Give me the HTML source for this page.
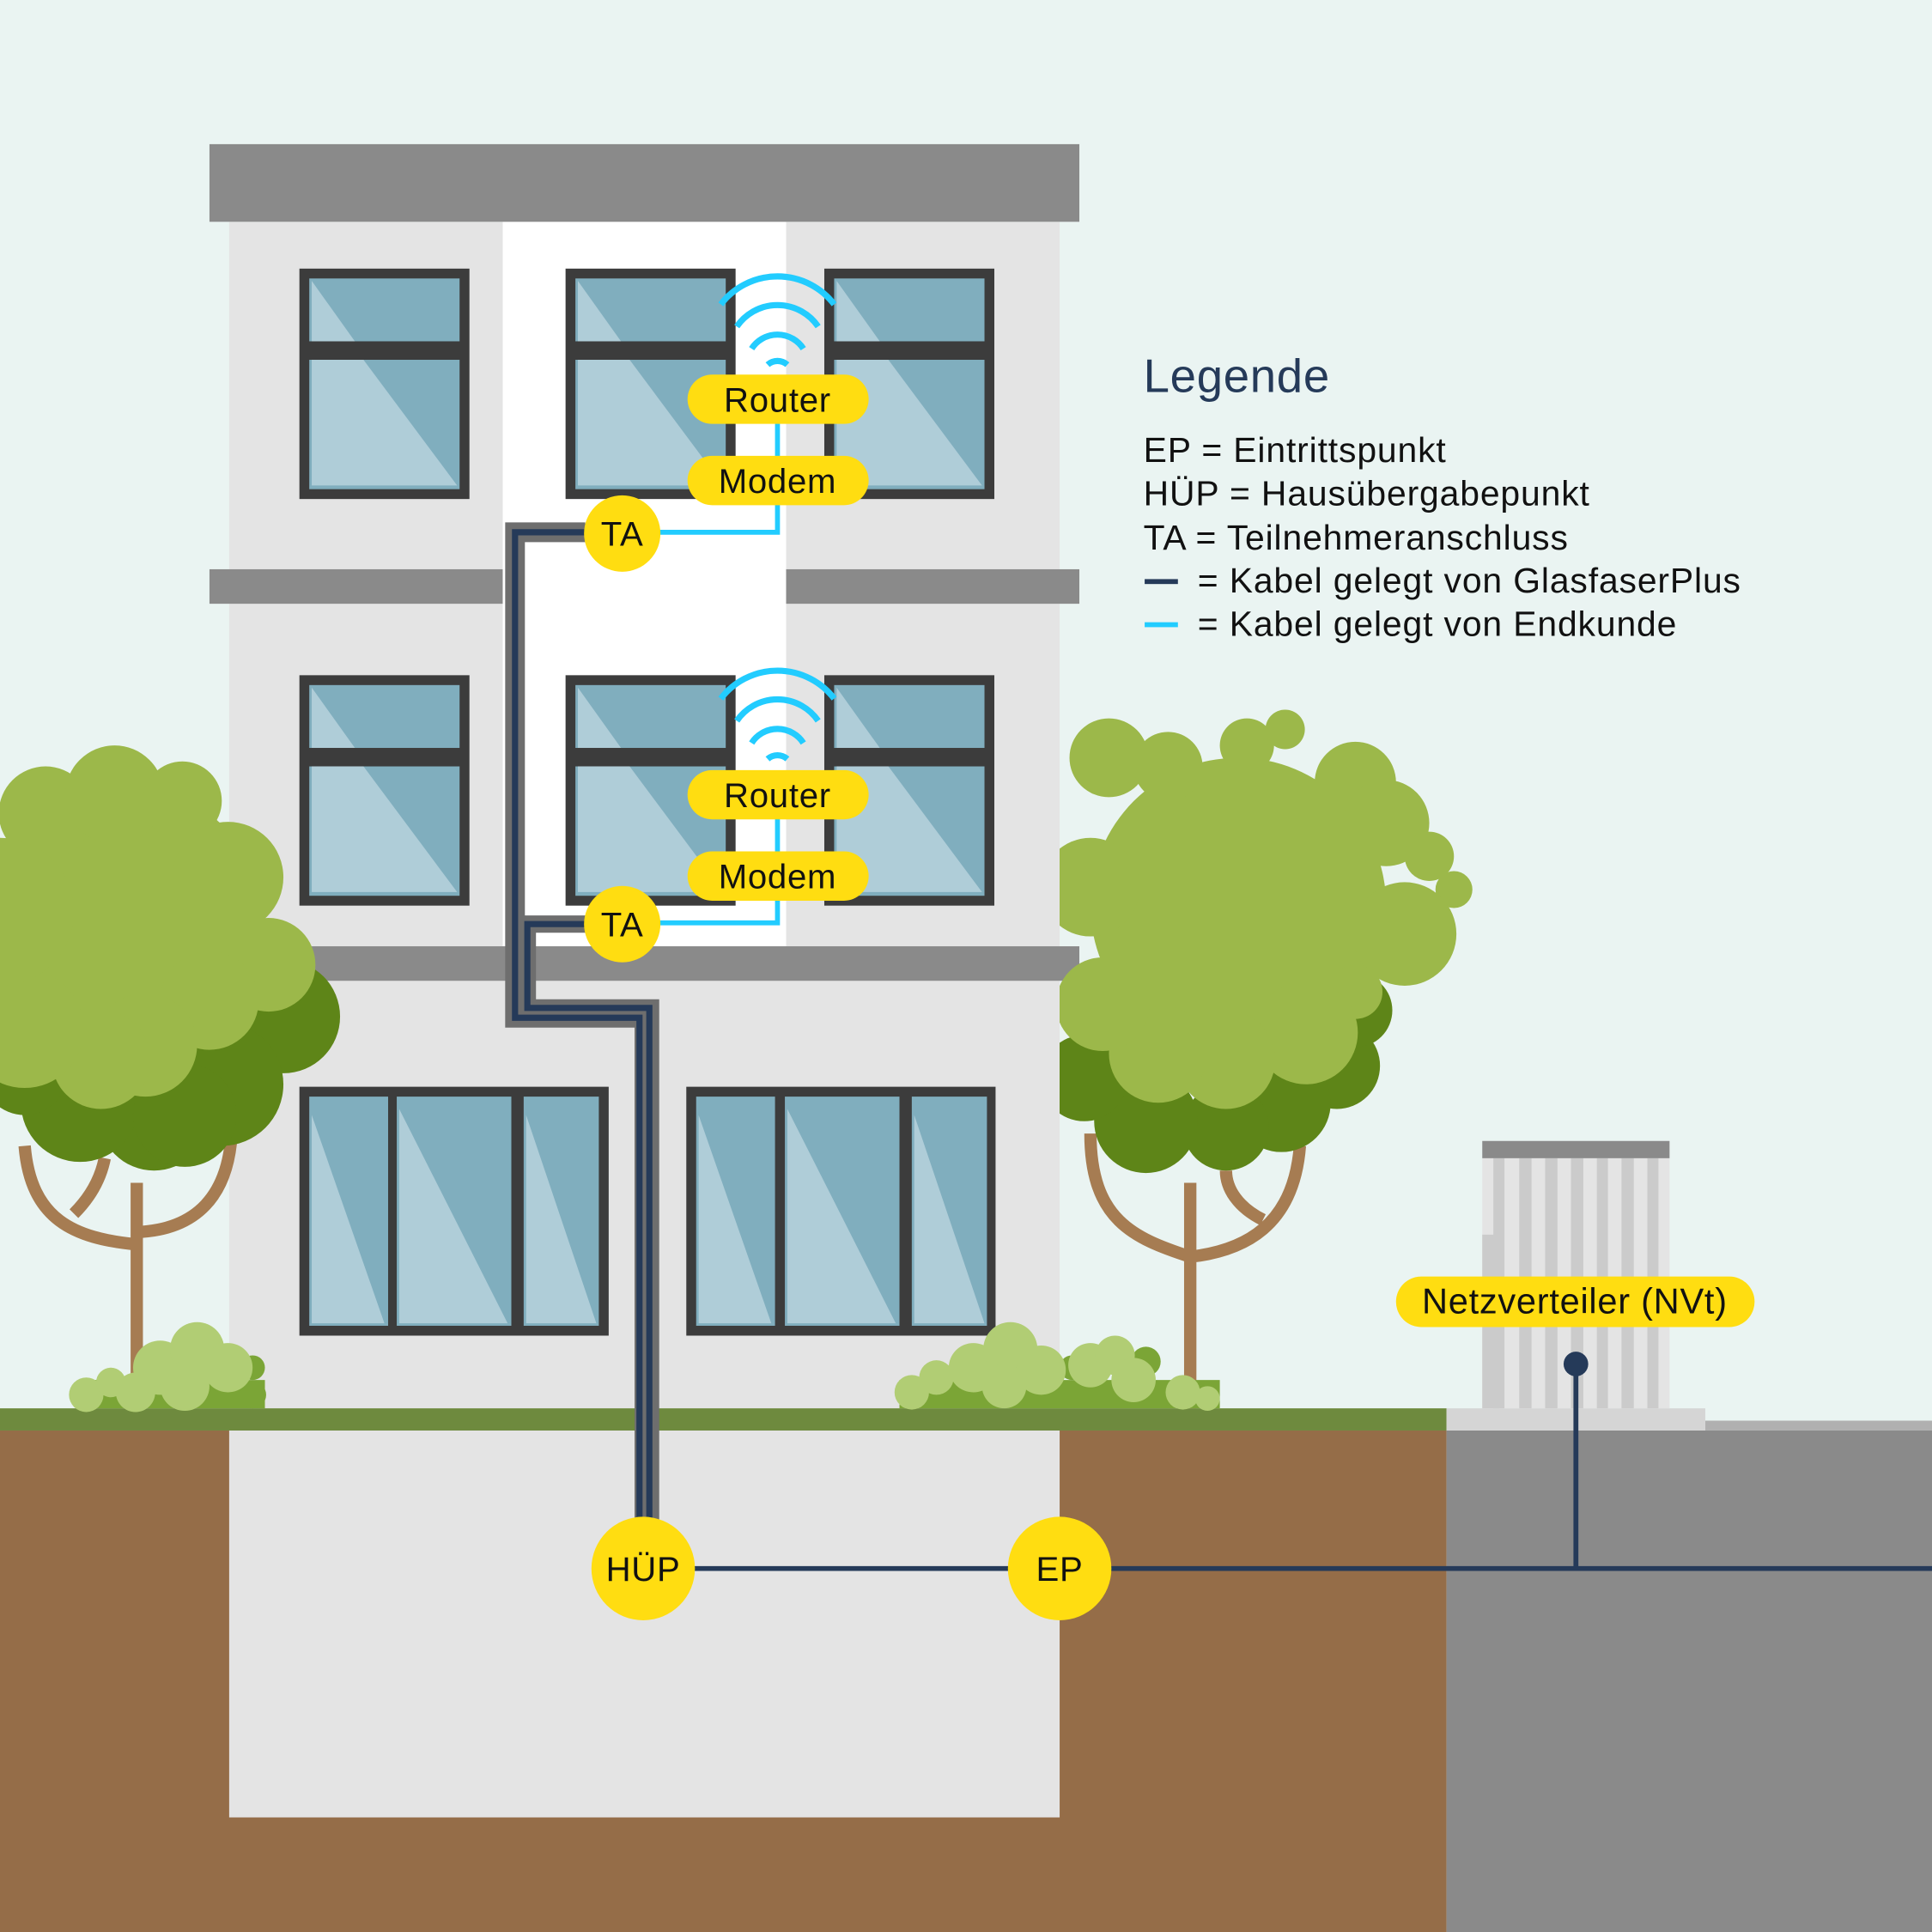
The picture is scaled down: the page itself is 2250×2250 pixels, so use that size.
<!DOCTYPE html>
<html><head><meta charset="utf-8"><style>html,body{margin:0;padding:0;background:#eaf4f2}svg{display:block}text{font-family:"Liberation Sans",sans-serif}</style></head><body>
<svg width="2250" height="2250" viewBox="0 0 1568 1568" xmlns="http://www.w3.org/2000/svg">
<defs>
<g id="win">
<rect x="0" y="0" width="138" height="187" fill="#3c3c3c"/>
<rect x="8" y="8" width="122" height="51" fill="#80aebe"/>
<rect x="8" y="74" width="122" height="105" fill="#80aebe"/>
<polygon points="10,10 45,59 10,59" fill="#afcdd8"/>
<polygon points="10,74 52,74 128,176 10,176" fill="#afcdd8"/>
</g>
<clipPath id="rc"><rect x="860" y="0" width="708" height="1200"/></clipPath>
</defs>
<rect width="1568" height="1568" fill="#eaf4f2"/>
<rect x="186" y="180" width="674" height="963" fill="#e4e4e4"/>
<rect x="408" y="180" width="230" height="588" fill="#ffffff"/>
<rect x="170" y="117" width="706" height="63" fill="#8a8a8a"/>
<rect x="170" y="462" width="238" height="28" fill="#8a8a8a"/>
<rect x="638" y="462" width="238" height="28" fill="#8a8a8a"/>
<rect x="170" y="768" width="706" height="28" fill="#8a8a8a"/>
<use href="#win" x="243" y="218"/><use href="#win" x="459" y="218"/><use href="#win" x="669" y="218"/>
<use href="#win" x="243" y="548"/><use href="#win" x="459" y="548"/><use href="#win" x="669" y="548"/>
<g>
<rect x="243" y="882" width="251" height="202" fill="#3c3c3c"/>
<rect x="251" y="890" width="64" height="186" fill="#80aebe"/><rect x="322" y="890" width="93" height="186" fill="#80aebe"/><rect x="425" y="890" width="61" height="186" fill="#80aebe"/>
<polygon points="253,905 253,1074 312,1074" fill="#afcdd8"/><polygon points="324,900 324,1074 412,1074" fill="#afcdd8"/><polygon points="427,905 427,1074 484,1074" fill="#afcdd8"/>
<rect x="557" y="882" width="251" height="202" fill="#3c3c3c"/>
<rect x="565" y="890" width="64" height="186" fill="#80aebe"/><rect x="637" y="890" width="93" height="186" fill="#80aebe"/><rect x="740" y="890" width="61" height="186" fill="#80aebe"/>
<polygon points="567,905 567,1074 626,1074" fill="#afcdd8"/><polygon points="639,900 639,1074 727,1074" fill="#afcdd8"/><polygon points="742,905 742,1074 799,1074" fill="#afcdd8"/>
</g>
<rect x="0" y="1161" width="1174" height="407" fill="#956d48"/>
<rect x="186" y="1161" width="674" height="314" fill="#e4e4e4"/>
<rect x="0" y="1143" width="1174" height="18" fill="#6e8a3e"/>
<rect x="1174" y="1161" width="394" height="407" fill="#8a8a8a"/>
<rect x="1384" y="1153" width="184" height="8" fill="#b0b0b0"/>
<rect x="1174" y="1143" width="210" height="18" fill="#d5d5d5"/>
<rect x="1203" y="940" width="152" height="203" fill="#e4e4e4"/>
<g fill="#cbcbcb"><rect x="1203" y="1002" width="14" height="141"/><rect x="1212" y="940" width="9" height="203"/><rect x="1233" y="940" width="10" height="203"/><rect x="1254" y="940" width="10" height="203"/><rect x="1275" y="940" width="10" height="203"/><rect x="1296" y="940" width="9" height="203"/><rect x="1316" y="940" width="10" height="203"/><rect x="1337" y="940" width="9" height="203"/></g>
<rect x="1203" y="926" width="152" height="14" fill="#8a8a8a"/>
<g>
<path d="M111,1143 V960 M111,1010 C60,1005 25,990 20,930 M111,1000 C160,998 185,970 188,920 M60,985 C75,970 82,955 85,940" stroke="#a67c52" stroke-width="10" fill="none"/>
<g fill="#5e8518"><circle cx="230" cy="825" r="46"/><circle cx="180" cy="880" r="50"/><circle cx="125" cy="905" r="45"/><circle cx="65" cy="895" r="48"/><circle cx="20" cy="870" r="35"/><circle cx="150" cy="905" r="42"/></g>
<g fill="#9cb84a"><circle cx="100" cy="745" r="110"/><circle cx="37" cy="660" r="38"/><circle cx="93" cy="645" r="40"/><circle cx="148" cy="650" r="32"/><circle cx="185" cy="712" r="45"/><circle cx="218" cy="783" r="38"/><circle cx="170" cy="812" r="40"/><circle cx="118" cy="848" r="42"/><circle cx="82" cy="860" r="40"/><circle cx="20" cy="835" r="48"/><circle cx="0" cy="740" r="60"/></g>
</g>
<g clip-path="url(#rc)">
<path d="M966,1143 V960 M966,1020 C1010,1015 1050,995 1055,930 M966,1020 C920,1005 885,990 885,920 M1025,990 C1005,980 995,965 995,950" stroke="#a67c52" stroke-width="10" fill="none"/>
<g fill="#5e8518"><circle cx="1085" cy="865" r="35"/><circle cx="1100" cy="820" r="30"/><circle cx="1040" cy="895" r="40"/><circle cx="995" cy="915" r="35"/><circle cx="930" cy="910" r="42"/><circle cx="880" cy="875" r="35"/></g>
<g fill="#9cb84a"><circle cx="1005" cy="735" r="120"/><circle cx="900" cy="615" r="32"/><circle cx="948" cy="622" r="28"/><circle cx="1012" cy="605" r="22"/><circle cx="1043" cy="592" r="16"/><circle cx="1100" cy="635" r="33"/><circle cx="1125" cy="668" r="35"/><circle cx="1160" cy="695" r="20"/><circle cx="1180" cy="722" r="15"/><circle cx="1140" cy="758" r="42"/><circle cx="1100" cy="805" r="22"/><circle cx="1060" cy="838" r="42"/><circle cx="995" cy="860" r="40"/><circle cx="940" cy="855" r="40"/><circle cx="895" cy="815" r="38"/><circle cx="885" cy="720" r="40"/></g>
</g>
<g fill="#7ba536"><rect x="65" y="1120" width="150" height="23"/><circle cx="205" cy="1110" r="10"/><circle cx="205" cy="1132" r="11"/><rect x="730" y="1120" width="260" height="23"/><circle cx="870" cy="1110" r="10"/><circle cx="930" cy="1105" r="12"/></g>
<g fill="#b1cd74"><circle cx="70" cy="1132" r="14"/><circle cx="90" cy="1122" r="12"/><circle cx="130" cy="1110" r="22"/><circle cx="160" cy="1095" r="22"/><circle cx="185" cy="1110" r="20"/><circle cx="150" cy="1125" r="20"/><circle cx="110" cy="1130" r="16"/>
<circle cx="740" cy="1130" r="14"/><circle cx="760" cy="1118" r="14"/><circle cx="790" cy="1110" r="20"/><circle cx="820" cy="1095" r="22"/><circle cx="845" cy="1112" r="20"/><circle cx="815" cy="1125" r="18"/><circle cx="885" cy="1108" r="18"/><circle cx="905" cy="1100" r="16"/><circle cx="920" cy="1120" r="18"/><circle cx="960" cy="1130" r="14"/><circle cx="980" cy="1135" r="10"/></g>
<g fill="none" stroke-linejoin="miter">
<path d="M475,432 H418 V826 H523 V1235" stroke="#6e6e6e" stroke-width="16"/>
<path d="M475,750 H428 V818 H528 V1235" stroke="#6e6e6e" stroke-width="14"/>
<path d="M475,432 H418 V826 H519 V1235" stroke="#253a59" stroke-width="5"/>
<path d="M475,750 H428 V818 H527 V1235" stroke="#253a59" stroke-width="5"/>
<path d="M563,1273 H1568 M1279,1107 V1273" stroke="#253a59" stroke-width="4"/>
<path d="M631,340 V432 H520 M631,660 V749 H520" stroke="#22ccff" stroke-width="4"/>
</g>
<circle cx="1279" cy="1107" r="10" fill="#253a59"/>
<g fill="none" stroke="#22ccff" stroke-width="5">
<path d="M585,247 A58,58 0 0 1 677,247"/><path d="M598,265 A40,40 0 0 1 664,265"/><path d="M610,283 A25,25 0 0 1 652,283"/><path d="M623,296 A12,12 0 0 1 639,296"/>
<path d="M585,567 A58,58 0 0 1 677,567"/><path d="M598,585 A40,40 0 0 1 664,585"/><path d="M610,603 A25,25 0 0 1 652,603"/><path d="M623,616 A12,12 0 0 1 639,616"/>
</g>
<g fill="#ffdd11">
<rect x="558" y="304" width="147" height="40" rx="20"/><rect x="558" y="370" width="147" height="40" rx="20"/>
<rect x="558" y="625" width="147" height="40" rx="20"/><rect x="558" y="691" width="147" height="40" rx="20"/>
<circle cx="505" cy="433" r="31"/><circle cx="505" cy="750" r="31"/>
<circle cx="522" cy="1273" r="42"/><circle cx="860" cy="1273" r="42"/>
<rect x="1133" y="1036" width="291" height="41" rx="20.5"/>
</g>
<g font-size="28" fill="#111" text-anchor="middle" letter-spacing="0.5">
<text x="631" y="334">Router</text><text x="631" y="400">Modem</text>
<text x="631" y="655">Router</text><text x="631" y="721">Modem</text>
<text x="505" y="443">TA</text><text x="505" y="760">TA</text>
<text x="522" y="1283">HÜP</text><text x="860" y="1283">EP</text>
<text x="1278" y="1066" font-size="29">Netzverteiler (NVt)</text>
</g>
<text x="928" y="318" font-size="38" fill="#253a59" letter-spacing="0.5">Legende</text>
<g font-size="28.5" fill="#111" letter-spacing="0.6">
<text x="928" y="375">EP = Eintrittspunkt</text>
<text x="928" y="410">HÜP = Hausübergabepunkt</text>
<text x="928" y="446">TA = Teilnehmeranschluss</text>
<text x="972" y="481">= Kabel gelegt von GlasfaserPlus</text>
<text x="972" y="516">= Kabel gelegt von Endkunde</text>
</g>
<rect x="929" y="470" width="27" height="4" fill="#253a59"/>
<rect x="929" y="505" width="27" height="4" fill="#22ccff"/>
</svg>
</body></html>
